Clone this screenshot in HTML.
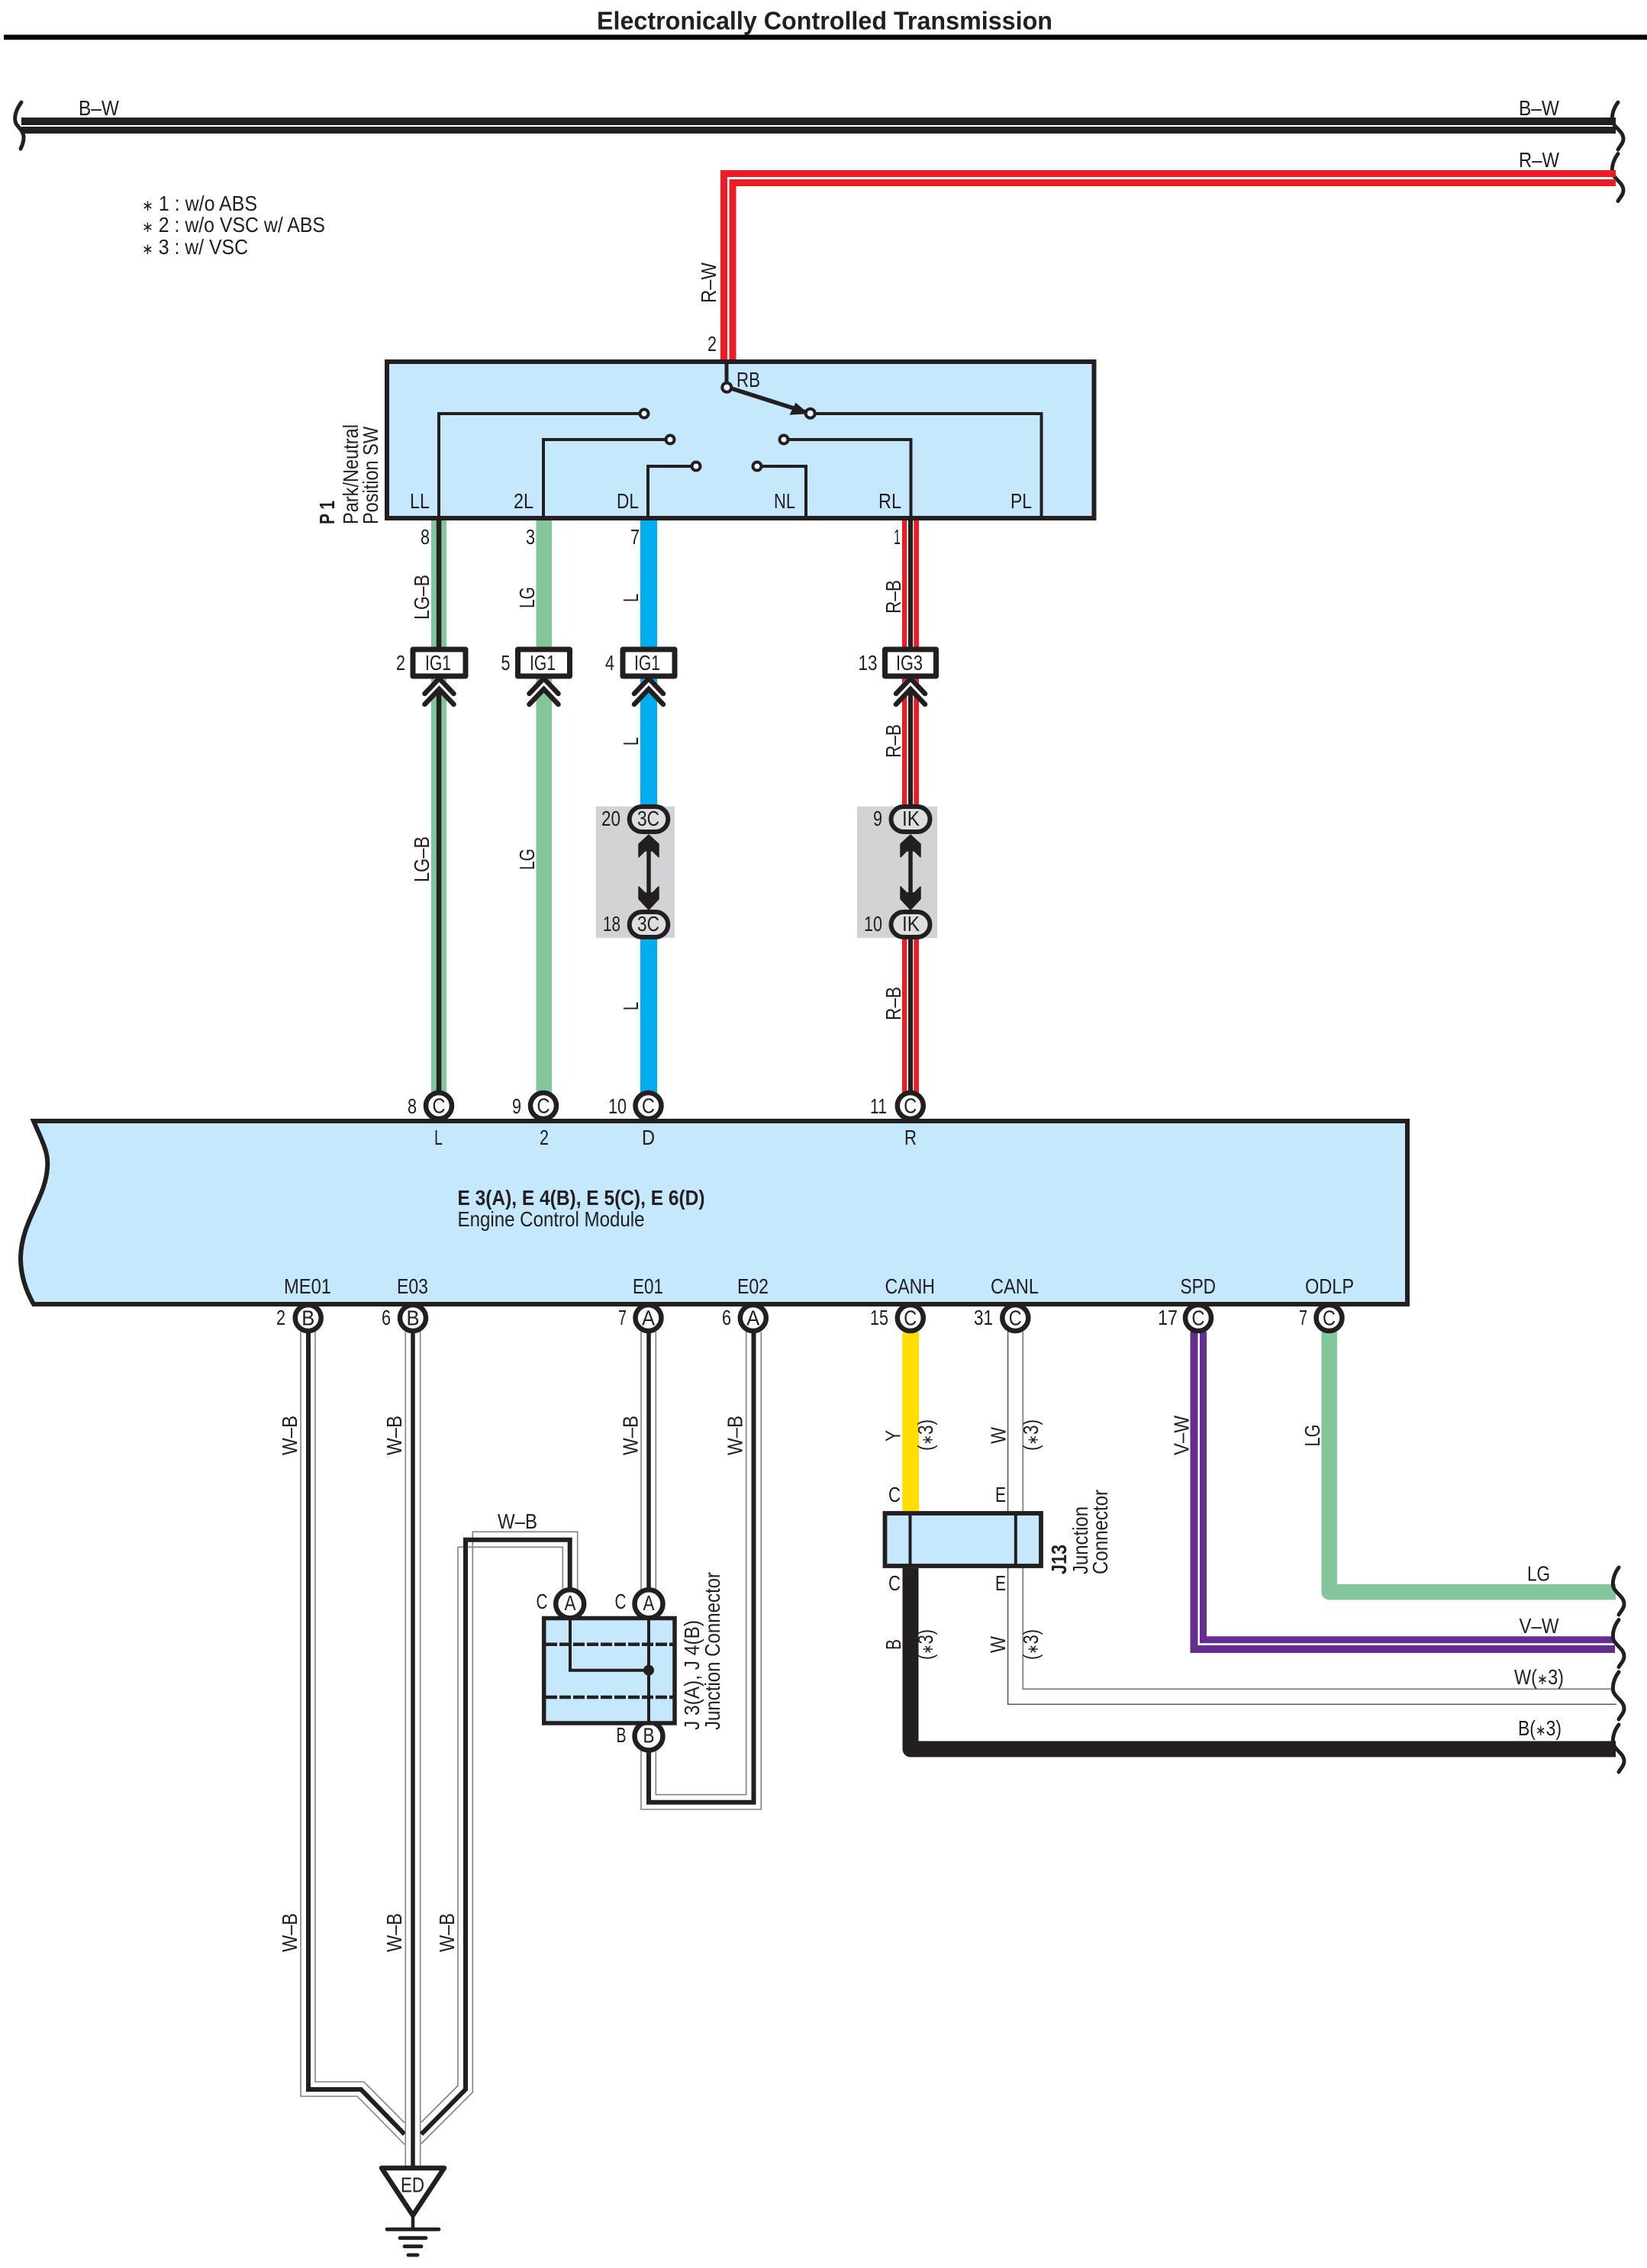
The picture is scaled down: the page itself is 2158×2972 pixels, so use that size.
<!DOCTYPE html>
<html><head><meta charset="utf-8"><title>Electronically Controlled Transmission</title>
<style>
html,body{margin:0;padding:0;background:#fff}
svg{display:block}
text{font-family:"Liberation Sans",sans-serif;font-size:28px;fill:#231f20}
tspan.a{font-size:20px}
.b{font-weight:bold}
.g{fill:none;stroke:#808285;stroke-width:1.6}
.k{fill:none;stroke:#231f20;stroke-width:5.5}
.t{fill:none;stroke:#231f20;stroke-width:4;stroke-linejoin:miter}
.c{fill:#fff;stroke:#231f20;stroke-width:6.5}
.o{fill:#dddedf;stroke:#231f20;stroke-width:6}
.s{fill:none;stroke:#231f20;stroke-width:5;stroke-linecap:round}
.h{fill:#fff;stroke:#231f20;stroke-width:4}
.box{fill:#c5e8fc;stroke:#231f20;stroke-width:6}
</style></head><body>
<svg xmlns="http://www.w3.org/2000/svg" width="2158" height="2972" viewBox="0 0 2158 2972">
<rect width="2158" height="2972" fill="#fff"/>
<defs>
<path id="cl" class="s" d="M2120 134C2114 142 2111 152 2113 160C2116 168 2127 172 2127 182C2127 188 2122 192 2120 196"/>
<path id="ch" d="M-19 20L0 0L19 20M-19 34L0 14L19 34" fill="none" stroke="#231f20" stroke-width="6.5" stroke-linecap="round"/>
</defs>

<!-- title -->
<text class="b" x="782" y="38.5" style="font-size:33px" textLength="597" lengthAdjust="spacingAndGlyphs">Electronically Controlled Transmission</text>
<rect x="5" y="45.5" width="2153" height="6.5" fill="#000"/>

<!-- B-W bus -->
<rect x="28" y="154" width="2089" height="10" fill="#231f20"/>
<rect x="28" y="166" width="2089" height="9" fill="#231f20"/>
<path class="s" d="M28 134C20 145 18 155 21 162C25 168 31 172 31 180C31 186 29 191 27 195"/>
<use href="#cl"/>
<use href="#cl" transform="translate(0,67.5)"/>
<text x="103" y="151" textLength="53" lengthAdjust="spacingAndGlyphs">B–W</text>
<text x="1990" y="151" textLength="53" lengthAdjust="spacingAndGlyphs">B–W</text>
<text x="1990" y="219" textLength="53" lengthAdjust="spacingAndGlyphs">R–W</text>

<!-- R-W -->
<path d="M2117 227.5H948.5V474M2117 239.5H960V474" fill="none" stroke="#ed1c24" stroke-width="9"/>
<text transform="translate(938,397) rotate(-90)" textLength="53" lengthAdjust="spacingAndGlyphs">R–W</text>
<text x="927" y="460" textLength="12" lengthAdjust="spacingAndGlyphs">2</text>

<!-- notes -->
<text x="186" y="276" textLength="151" lengthAdjust="spacingAndGlyphs"><tspan class="a">∗</tspan> 1 : w/o ABS</text>
<text x="186" y="304" textLength="240" lengthAdjust="spacingAndGlyphs"><tspan class="a">∗</tspan> 2 : w/o VSC w/ ABS</text>
<text x="186" y="333" textLength="139" lengthAdjust="spacingAndGlyphs"><tspan class="a">∗</tspan> 3 : w/ VSC</text>

<!-- vertical wires upper -->
<rect x="565" y="682" width="20" height="750" fill="#82c79c"/>
<rect x="702.5" y="682" width="20.5" height="750" fill="#82c79c"/>
<rect x="839" y="682" width="22" height="750" fill="#00aeef"/>
<rect x="1182" y="682" width="22" height="750" fill="#ed1c24"/>
<rect x="1188.3" y="682" width="9" height="750" fill="#fff"/>
<rect x="1190" y="682" width="6" height="750" fill="#231f20"/>
<rect x="571.8" y="682" width="6.5" height="750" fill="#231f20"/>

<!-- grey connector blocks -->
<rect x="780.7" y="1056.7" width="103.3" height="172.3" fill="#d1d3d4"/>
<rect x="1123" y="1056.7" width="105" height="172.3" fill="#d1d3d4"/>
<rect x="839" y="1094" width="22" height="98" fill="#d1d3d4"/>
<rect x="1182" y="1094" width="22" height="98" fill="#d1d3d4"/>

<!-- double arrows -->
<g fill="#231f20" stroke="#231f20" stroke-width="1.5" stroke-linejoin="round">
<path d="M850 1094L863 1106V1123L855 1115H845L837 1123V1106Z"/>
<path d="M850 1192L863 1178V1162L855 1170H845L837 1162V1178Z"/>
<rect x="848" y="1110" width="4" height="64"/>
<path d="M1193 1094L1206 1106V1123L1198 1115H1188L1180 1123V1106Z"/>
<path d="M1193 1192L1206 1178V1162L1198 1170H1188L1180 1162V1178Z"/>
<rect x="1191" y="1110" width="4" height="64"/>
</g>
<rect class="o" x="824.7" y="1057" width="50.6" height="33" rx="16.5"/>
<rect class="o" x="824.7" y="1195" width="50.6" height="33" rx="16.5"/>
<rect class="o" x="1167.5" y="1057" width="51" height="33" rx="16.5"/>
<rect class="o" x="1167.5" y="1195" width="51" height="33" rx="16.5"/>
<text x="835" y="1082" textLength="29" lengthAdjust="spacingAndGlyphs">3C</text>
<text x="835" y="1220" textLength="29" lengthAdjust="spacingAndGlyphs">3C</text>
<text x="1182" y="1082" textLength="23" lengthAdjust="spacingAndGlyphs">IK</text>
<text x="1182" y="1220" textLength="23" lengthAdjust="spacingAndGlyphs">IK</text>
<text x="788" y="1082" textLength="25" lengthAdjust="spacingAndGlyphs">20</text>
<text x="790" y="1220" textLength="23" lengthAdjust="spacingAndGlyphs">18</text>
<text x="1144" y="1082" textLength="12" lengthAdjust="spacingAndGlyphs">9</text>
<text x="1132" y="1220" textLength="24" lengthAdjust="spacingAndGlyphs">10</text>

<!-- IG connector chevrons -->
<g fill="#fff">
<path d="M552 909L575.7 884L599 909V923L575.7 903L552 923Z"/>
<path d="M689 909L712.7 884L736 909V923L712.7 903L689 923Z"/>
<path d="M826 909L850 884L873 909V923L850 903L826 923Z"/>
<path d="M1169 909L1193 884L1216 909V923L1193 903L1169 923Z"/>
</g>
<use href="#ch" transform="translate(575.5,889)"/>
<use href="#ch" transform="translate(712.5,889)"/>
<use href="#ch" transform="translate(850,889)"/>
<use href="#ch" transform="translate(1193,889)"/>

<!-- IG boxes -->
<g fill="#fff" stroke="#231f20" stroke-width="7" stroke-linejoin="round">
<rect x="541" y="851" width="69" height="35"/>
<rect x="678.5" y="851" width="68" height="35"/>
<rect x="816" y="851" width="68" height="35"/>
<rect x="1159.5" y="851" width="67" height="35"/>
</g>
<text x="557" y="878" textLength="34" lengthAdjust="spacingAndGlyphs">IG1</text>
<text x="694" y="878" textLength="34" lengthAdjust="spacingAndGlyphs">IG1</text>
<text x="831" y="878" textLength="34" lengthAdjust="spacingAndGlyphs">IG1</text>
<text x="1174" y="878" textLength="35" lengthAdjust="spacingAndGlyphs">IG3</text>
<text x="519" y="878" textLength="12" lengthAdjust="spacingAndGlyphs">2</text>
<text x="656.5" y="878" textLength="12" lengthAdjust="spacingAndGlyphs">5</text>
<text x="793" y="878" textLength="12" lengthAdjust="spacingAndGlyphs">4</text>
<text x="1124.5" y="878" textLength="25" lengthAdjust="spacingAndGlyphs">13</text>

<!-- wire labels upper -->
<text x="551" y="713" textLength="12" lengthAdjust="spacingAndGlyphs">8</text>
<text x="689" y="713" textLength="12" lengthAdjust="spacingAndGlyphs">3</text>
<text x="826" y="713" textLength="12" lengthAdjust="spacingAndGlyphs">7</text>
<text x="1171" y="713" textLength="9" lengthAdjust="spacingAndGlyphs">1</text>
<text transform="translate(562,812) rotate(-90)" textLength="59" lengthAdjust="spacingAndGlyphs">LG–B</text>
<text transform="translate(562,1156) rotate(-90)" textLength="60" lengthAdjust="spacingAndGlyphs">LG–B</text>
<text transform="translate(700,797) rotate(-90)" textLength="28" lengthAdjust="spacingAndGlyphs">LG</text>
<text transform="translate(700,1140) rotate(-90)" textLength="28" lengthAdjust="spacingAndGlyphs">LG</text>
<text transform="translate(836,789) rotate(-90)" textLength="11" lengthAdjust="spacingAndGlyphs">L</text>
<text transform="translate(836,977) rotate(-90)" textLength="11" lengthAdjust="spacingAndGlyphs">L</text>
<text transform="translate(836,1324) rotate(-90)" textLength="11" lengthAdjust="spacingAndGlyphs">L</text>
<text transform="translate(1180,804) rotate(-90)" textLength="44" lengthAdjust="spacingAndGlyphs">R–B</text>
<text transform="translate(1180,993) rotate(-90)" textLength="44" lengthAdjust="spacingAndGlyphs">R–B</text>
<text transform="translate(1180,1337) rotate(-90)" textLength="44" lengthAdjust="spacingAndGlyphs">R–B</text>

<!-- P1 switch box -->
<rect class="box" x="507" y="474" width="926.5" height="205"/>
<g class="t">
<path class="t" d="M575 679V542H844"/>
<path class="t" d="M712 679V576H878"/>
<path class="t" d="M849 679V611H912"/>
<path class="t" d="M1056 679V611H992"/>
<path class="t" d="M1193.5 679V576H1027"/>
<path class="t" d="M1364.5 679V542H1061"/>
</g>
<path d="M952 474V507" stroke="#231f20" stroke-width="5" fill="none"/>
<path d="M952 507L1062 542" stroke="#231f20" stroke-width="5.5" fill="none"/>
<path d="M1043 530L1037 542L1056 541Z" fill="#231f20" stroke="#231f20" stroke-width="3"/>
<circle class="h" cx="952.3" cy="507.7" r="6"/>
<circle class="h" cx="1061.7" cy="541.7" r="6"/>
<circle class="h" cx="844" cy="542" r="5.5"/>
<circle class="h" cx="878" cy="576" r="5.5"/>
<circle class="h" cx="912" cy="611" r="5.5"/>
<circle class="h" cx="992" cy="611" r="5.5"/>
<circle class="h" cx="1027" cy="576" r="5.5"/>
<text x="965" y="507" textLength="31" lengthAdjust="spacingAndGlyphs">RB</text>
<text x="537" y="666" textLength="26" lengthAdjust="spacingAndGlyphs">LL</text>
<text x="673" y="666" textLength="26" lengthAdjust="spacingAndGlyphs">2L</text>
<text x="808" y="666" textLength="29" lengthAdjust="spacingAndGlyphs">DL</text>
<text x="1014" y="666" textLength="28" lengthAdjust="spacingAndGlyphs">NL</text>
<text x="1151" y="666" textLength="30" lengthAdjust="spacingAndGlyphs">RL</text>
<text x="1324" y="666" textLength="28" lengthAdjust="spacingAndGlyphs">PL</text>
<text class="b" transform="translate(438,687) rotate(-90)" textLength="31" lengthAdjust="spacingAndGlyphs">P 1</text>
<text transform="translate(469,687) rotate(-90)" textLength="131" lengthAdjust="spacingAndGlyphs">Park/Neutral</text>
<text transform="translate(495,687) rotate(-90)" textLength="128" lengthAdjust="spacingAndGlyphs">Position SW</text>

<!-- lower wires -->
<g id="wb">
<path class="g" d="M394 1745V2747H468L530 2810"/>
<path class="g" d="M413 1745V2728H476.7L530 2781.7"/>
<path class="k" d="M404 1745V2738H473L530 2796.7" style="stroke-width:6"/>
<path class="g" d="M531.3 1745V2838M550.7 1745V2838"/>
<path class="k" d="M541 1745V2838"/>
<path class="g" d="M552 2809L619.3 2741.7V2007.3H756.7V2085"/>
<path class="g" d="M552 2781L600 2733V2027.3H737.3V2085"/>
<path class="k" d="M552 2796.7L610 2738V2017.7H746.7V2085" style="stroke-width:6"/>
<path class="g" d="M840 1745V2090M859.3 1745V2090"/>
<path class="k" d="M850 1745V2090"/>
<path class="g" d="M840 2285V2371H997.3V1745"/>
<path class="g" d="M859.3 2285V2351.7H977.7V1745"/>
<path class="k" d="M850 2285V2361.7H987.5V1745" style="stroke-width:6"/>
</g>

<!-- ECM wires -->
<rect x="1182.3" y="1745" width="21.7" height="235" fill="#ffde00"/>
<path d="M1320.6 1745V2233.3H2118" fill="none" stroke="#4d4d4f" stroke-width="1.4"/>
<path d="M1340.3 1745V2213.3H2112" fill="none" stroke="#808285" stroke-width="1.8"/>
<path d="M1564.5 1745V2161H2116" fill="none" stroke="#662d91" stroke-width="10"/>
<path d="M1576.5 1745V2148.7H2116" fill="none" stroke="#662d91" stroke-width="9"/>
<path d="M1741.7 1745V2086.3H2117" fill="none" stroke="#82c79c" stroke-width="20.5" stroke-linejoin="round"/>
<path d="M1193 2055V2292H2117" fill="none" stroke="#231f20" stroke-width="21" stroke-linejoin="round"/>

<!-- connector circles -->
<g>
<circle class="c" cx="575" cy="1449" r="17"/>
<circle class="c" cx="712" cy="1449" r="17"/>
<circle class="c" cx="849.5" cy="1449" r="17"/>
<circle class="c" cx="1192.8" cy="1449" r="17"/>
<circle class="c" cx="403.7" cy="1727" r="17"/>
<circle class="c" cx="541" cy="1727" r="17"/>
<circle class="c" cx="849.5" cy="1727" r="17"/>
<circle class="c" cx="986.8" cy="1727" r="17"/>
<circle class="c" cx="1192.8" cy="1727" r="17"/>
<circle class="c" cx="1330.3" cy="1727" r="17"/>
<circle class="c" cx="1570" cy="1727" r="17"/>
<circle class="c" cx="1741.5" cy="1727" r="17"/>
</g>

<!-- ECM body -->
<path class="box" d="M44 1469C55 1495 64 1510 62 1530C60 1570 28 1600 27 1648C27 1675 36 1695 44 1709H1844V1469Z"/>

<g text-anchor="middle">
<text x="575" y="1458.5" textLength="17" lengthAdjust="spacingAndGlyphs">C</text>
<text x="712" y="1458.5" textLength="17" lengthAdjust="spacingAndGlyphs">C</text>
<text x="849.5" y="1458.5" textLength="17" lengthAdjust="spacingAndGlyphs">C</text>
<text x="1192.8" y="1458.5" textLength="17" lengthAdjust="spacingAndGlyphs">C</text>
<text x="403.7" y="1736.5" textLength="17" lengthAdjust="spacingAndGlyphs">B</text>
<text x="541" y="1736.5" textLength="17" lengthAdjust="spacingAndGlyphs">B</text>
<text x="849.5" y="1736.5" textLength="17" lengthAdjust="spacingAndGlyphs">A</text>
<text x="986.8" y="1736.5" textLength="17" lengthAdjust="spacingAndGlyphs">A</text>
<text x="1192.8" y="1736.5" textLength="17" lengthAdjust="spacingAndGlyphs">C</text>
<text x="1330.3" y="1736.5" textLength="17" lengthAdjust="spacingAndGlyphs">C</text>
<text x="1570" y="1736.5" textLength="17" lengthAdjust="spacingAndGlyphs">C</text>
<text x="1741.5" y="1736.5" textLength="17" lengthAdjust="spacingAndGlyphs">C</text>
</g>

<text x="534" y="1459" textLength="12" lengthAdjust="spacingAndGlyphs">8</text>
<text x="671" y="1459" textLength="12" lengthAdjust="spacingAndGlyphs">9</text>
<text x="797" y="1459" textLength="24" lengthAdjust="spacingAndGlyphs">10</text>
<text x="1140" y="1459" textLength="22" lengthAdjust="spacingAndGlyphs">11</text>
<text x="569" y="1500" textLength="11" lengthAdjust="spacingAndGlyphs">L</text>
<text x="707" y="1500" textLength="12" lengthAdjust="spacingAndGlyphs">2</text>
<text x="841" y="1500" textLength="17" lengthAdjust="spacingAndGlyphs">D</text>
<text x="1185" y="1500" textLength="16" lengthAdjust="spacingAndGlyphs">R</text>
<text x="599.5" y="1579" style="font-weight:bold" textLength="324" lengthAdjust="spacingAndGlyphs">E 3(A), E 4(B), E 5(C), E 6(D)</text>
<text x="599.5" y="1607" textLength="245" lengthAdjust="spacingAndGlyphs">Engine Control Module</text>

<text x="372" y="1695" textLength="62" lengthAdjust="spacingAndGlyphs">ME01</text>
<text x="520" y="1695" textLength="41" lengthAdjust="spacingAndGlyphs">E03</text>
<text x="829" y="1695" textLength="40" lengthAdjust="spacingAndGlyphs">E01</text>
<text x="966" y="1695" textLength="41" lengthAdjust="spacingAndGlyphs">E02</text>
<text x="1159.5" y="1695" textLength="65.5" lengthAdjust="spacingAndGlyphs">CANH</text>
<text x="1298" y="1695" textLength="63" lengthAdjust="spacingAndGlyphs">CANL</text>
<text x="1546.5" y="1695" textLength="46.5" lengthAdjust="spacingAndGlyphs">SPD</text>
<text x="1710" y="1695" textLength="64" lengthAdjust="spacingAndGlyphs">ODLP</text>

<text x="362" y="1736" textLength="12" lengthAdjust="spacingAndGlyphs">2</text>
<text x="500" y="1736" textLength="12" lengthAdjust="spacingAndGlyphs">6</text>
<text x="810" y="1736" textLength="11" lengthAdjust="spacingAndGlyphs">7</text>
<text x="946" y="1736" textLength="12" lengthAdjust="spacingAndGlyphs">6</text>
<text x="1140" y="1736" textLength="24" lengthAdjust="spacingAndGlyphs">15</text>
<text x="1276" y="1736" textLength="25" lengthAdjust="spacingAndGlyphs">31</text>
<text x="1517" y="1736" textLength="26" lengthAdjust="spacingAndGlyphs">17</text>
<text x="1702" y="1736" textLength="11" lengthAdjust="spacingAndGlyphs">7</text>

<!-- lower vertical labels -->
<text transform="translate(389,1907) rotate(-90)" textLength="52" lengthAdjust="spacingAndGlyphs">W–B</text>
<text transform="translate(526,1907) rotate(-90)" textLength="52" lengthAdjust="spacingAndGlyphs">W–B</text>
<text transform="translate(835.5,1907) rotate(-90)" textLength="52" lengthAdjust="spacingAndGlyphs">W–B</text>
<text transform="translate(972.5,1907) rotate(-90)" textLength="52" lengthAdjust="spacingAndGlyphs">W–B</text>
<text transform="translate(389,2558) rotate(-90)" textLength="51" lengthAdjust="spacingAndGlyphs">W–B</text>
<text transform="translate(526,2558) rotate(-90)" textLength="51" lengthAdjust="spacingAndGlyphs">W–B</text>
<text transform="translate(595,2558) rotate(-90)" textLength="51" lengthAdjust="spacingAndGlyphs">W–B</text>
<text x="652" y="2003" textLength="52" lengthAdjust="spacingAndGlyphs">W–B</text>
<text transform="translate(1179.5,1889) rotate(-90)" textLength="15" lengthAdjust="spacingAndGlyphs">Y</text>
<text transform="translate(1222,1901) rotate(-90)" textLength="41" lengthAdjust="spacingAndGlyphs">(<tspan class="a">∗</tspan>3)</text>
<text transform="translate(1317.5,1892) rotate(-90)" textLength="22" lengthAdjust="spacingAndGlyphs">W</text>
<text transform="translate(1360,1901) rotate(-90)" textLength="41" lengthAdjust="spacingAndGlyphs">(<tspan class="a">∗</tspan>3)</text>
<text transform="translate(1557.5,1907) rotate(-90)" textLength="52" lengthAdjust="spacingAndGlyphs">V–W</text>
<text transform="translate(1729,1895.5) rotate(-90)" textLength="29" lengthAdjust="spacingAndGlyphs">LG</text>
<text transform="translate(1180,2162) rotate(-90)" textLength="14" lengthAdjust="spacingAndGlyphs">B</text>
<text transform="translate(1222,2175) rotate(-90)" textLength="40" lengthAdjust="spacingAndGlyphs">(<tspan class="a">∗</tspan>3)</text>
<text transform="translate(1317,2166) rotate(-90)" textLength="22" lengthAdjust="spacingAndGlyphs">W</text>
<text transform="translate(1360,2175) rotate(-90)" textLength="40" lengthAdjust="spacingAndGlyphs">(<tspan class="a">∗</tspan>3)</text>

<!-- J3/J4 junction -->
<circle class="c" cx="746.7" cy="2101.7" r="18.5"/>
<circle class="c" cx="850" cy="2101.7" r="18.5"/>
<circle class="c" cx="850" cy="2275" r="18.5"/>
<rect x="712.7" y="2120.5" width="171.3" height="137.5" fill="#c5e8fc" stroke="#231f20" stroke-width="5.5"/>
<path d="M715 2154.7H882M715 2224H882" stroke="#231f20" stroke-width="4.5" stroke-dasharray="15 3" fill="none"/>
<path d="M747 2120V2188.7H850M850 2120V2258" fill="none" stroke="#231f20" stroke-width="4"/>
<circle cx="850" cy="2188.7" r="7" fill="#231f20"/>
<text x="739.5" y="2110" textLength="15" lengthAdjust="spacingAndGlyphs">A</text>
<text x="842.5" y="2110" textLength="15" lengthAdjust="spacingAndGlyphs">A</text>
<text x="842.5" y="2283.5" textLength="15" lengthAdjust="spacingAndGlyphs">B</text>
<text x="702.5" y="2108" textLength="15" lengthAdjust="spacingAndGlyphs">C</text>
<text x="805.5" y="2108" textLength="15" lengthAdjust="spacingAndGlyphs">C</text>
<text x="807.5" y="2283" textLength="13" lengthAdjust="spacingAndGlyphs">B</text>
<text transform="translate(916,2267) rotate(-90)" textLength="144" lengthAdjust="spacingAndGlyphs">J 3(A), J 4(B)</text>
<text transform="translate(943,2267) rotate(-90)" textLength="207" lengthAdjust="spacingAndGlyphs">Junction Connector</text>

<!-- J13 junction -->
<rect x="1159.5" y="1983" width="204.5" height="69" fill="#c5e8fc" stroke="#231f20" stroke-width="5.8"/>
<path d="M1192.5 1983V2052M1330.8 1983V2052" stroke="#231f20" stroke-width="4" fill="none"/>
<text x="1164" y="1968" textLength="16" lengthAdjust="spacingAndGlyphs">C</text>
<text x="1304" y="1968" textLength="14" lengthAdjust="spacingAndGlyphs">E</text>
<text x="1164" y="2084" textLength="16" lengthAdjust="spacingAndGlyphs">C</text>
<text x="1304" y="2084" textLength="14" lengthAdjust="spacingAndGlyphs">E</text>
<text class="b" transform="translate(1397,2063) rotate(-90)" textLength="39" lengthAdjust="spacingAndGlyphs">J13</text>
<text transform="translate(1425,2063) rotate(-90)" textLength="89" lengthAdjust="spacingAndGlyphs">Junction</text>
<text transform="translate(1451,2063) rotate(-90)" textLength="111" lengthAdjust="spacingAndGlyphs">Connector</text>

<!-- right side breaks -->
<use href="#cl" transform="translate(1,1920)"/>
<use href="#cl" transform="translate(1,1988.5)"/>
<use href="#cl" transform="translate(1,2057)"/>
<use href="#cl" transform="translate(1,2126)"/>
<text x="2001" y="2071.5" textLength="30" lengthAdjust="spacingAndGlyphs">LG</text>
<text x="1990.5" y="2140" textLength="52" lengthAdjust="spacingAndGlyphs">V–W</text>
<text x="1984" y="2207" textLength="65" lengthAdjust="spacingAndGlyphs">W(<tspan class="a">∗</tspan>3)</text>
<text x="1989" y="2274" textLength="57" lengthAdjust="spacingAndGlyphs">B(<tspan class="a">∗</tspan>3)</text>

<!-- ground -->
<path d="M500 2841H582L541 2903Z" fill="#fff" stroke="#231f20" stroke-width="6.5" stroke-linejoin="round"/>
<text x="525" y="2872.5" textLength="31" lengthAdjust="spacingAndGlyphs">ED</text>
<path d="M541 2903V2921" stroke="#231f20" stroke-width="4.5"/>
<g stroke="#231f20" stroke-width="4.8" stroke-linecap="round">
<path d="M507 2921.3H575"/>
<path d="M524 2932.7H558"/>
<path d="M530 2943.7H552"/>
<path d="M535 2955H547"/>
</g>
</svg>
</body></html>
